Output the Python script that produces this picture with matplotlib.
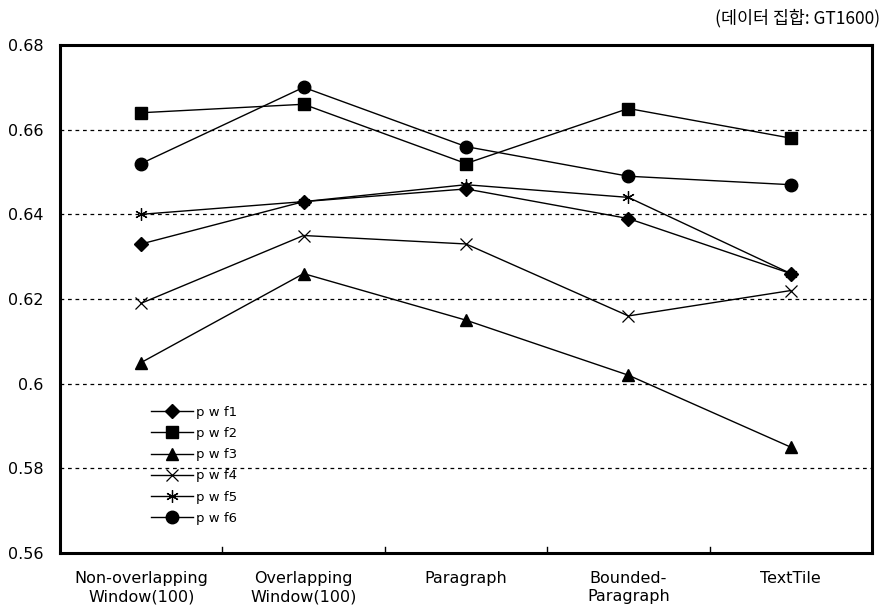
import matplotlib
matplotlib.use("Agg")
import matplotlib.pyplot as plt

categories = ["Non-overlapping\nWindow(100)", "Overlapping\nWindow(100)", "Paragraph",
              "Bounded-\nParagraph", "TextTile"]
series_names = ["p w f1", "p w f2", "p w f3", "p w f4", "p w f5", "p w f6"]
pwf1 = [0.633, 0.643, 0.646, 0.639, 0.626]
pwf2 = [0.664, 0.666, 0.652, 0.665, 0.658]
pwf3 = [0.605, 0.626, 0.615, 0.602, 0.585]
pwf4 = [0.619, 0.635, 0.633, 0.616, 0.622]
pwf5 = [0.640, 0.643, 0.647, 0.644, 0.626]
pwf6 = [0.652, 0.670, 0.656, 0.649, 0.647]
y_ticks = [0.56, 0.58, 0.60, 0.62, 0.64, 0.66, 0.68]
y_tick_labels = ["0.56", "0.58", "0.6", "0.62", "0.64", "0.66", "0.68"]

fig = plt.figure(figsize=(8.87, 6.08), dpi=100)
ax = fig.add_axes([60/887, 1-553/608, 812/887, 508/608])

styles = [
    dict(marker="D", ms=7),
    dict(marker="s", ms=8.5),
    dict(marker="^", ms=9),
    dict(marker="x", ms=8, mew=0.9),
    dict(marker=(6, 2, 0), ms=9, mew=0.9),
    dict(marker="o", ms=9),
]
data = [pwf1, pwf2, pwf3, pwf4, pwf5, pwf6]
x = list(range(len(categories)))
for name, vals, st in zip(series_names, data, styles):
    ax.plot(x, vals, color="black", lw=1.0, mfc="black", mec="black", label=name, **st)

ax.set_xlim(-0.5, len(categories) - 0.5)
ax.set_ylim(0.56, 0.68)
ax.set_yticks(y_ticks)
ax.set_yticklabels(y_tick_labels, fontsize=11.5)
ax.tick_params(axis="y", length=0, pad=12)
for yv in y_ticks[1:-1]:
    ax.axhline(yv, color="black", lw=0.9, ls=(0, (3, 3)), zorder=0)

ax.set_xticks(x)
ax.set_xticklabels(categories, fontsize=11.5, linespacing=1.25)
ax.tick_params(axis="x", length=0, pad=13)
for b in [0.5, 1.5, 2.5, 3.5]:
    ax.plot([b, b], [0.56, 0.5615], color="black", lw=1.0, clip_on=False)

for sp in ax.spines.values():
    sp.set_linewidth(2.2)
    sp.set_color("black")

leg = ax.legend(loc="upper left", bbox_to_anchor=(0.105, 0.30), frameon=False,
                fontsize=9.5, handlelength=3.2, handletextpad=0.25, labelspacing=0.62,
                borderaxespad=0)

fig.text(880/887, 1-18/608, "(데이터 집합: GT1600)", ha="right", va="center",
         fontsize=12.5, family=["Noto Sans CJK KR", "DejaVu Sans"])

fig.savefig("out.png", dpi=100)
